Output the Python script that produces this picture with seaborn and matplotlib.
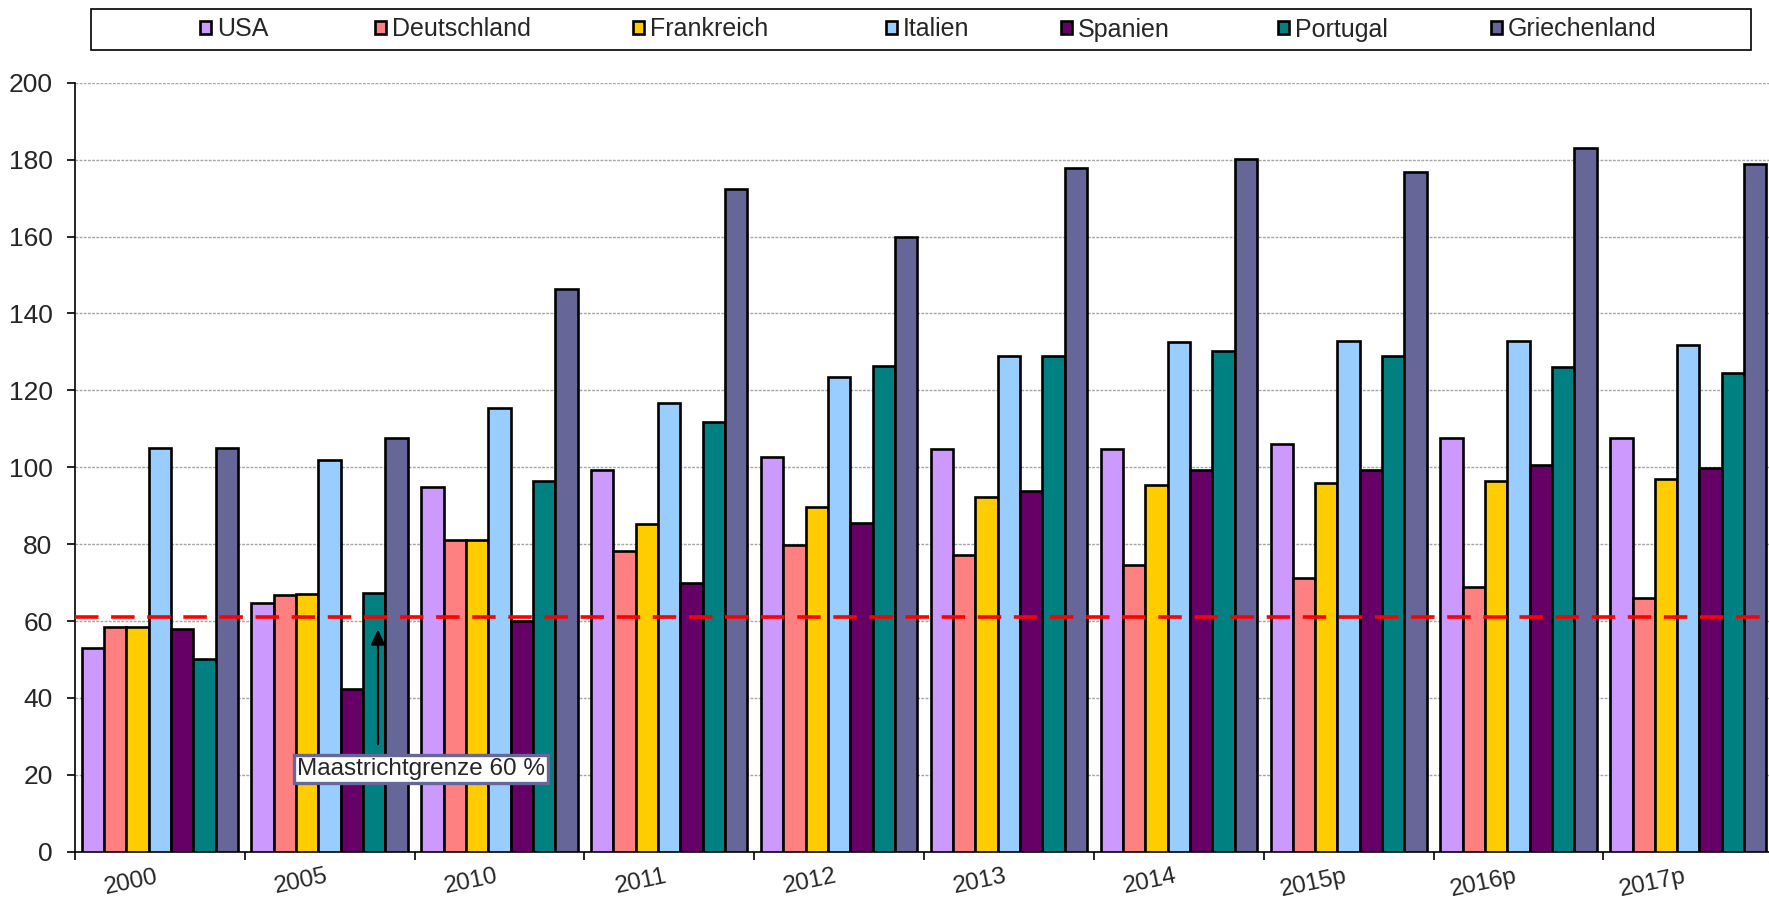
import numpy as np
import pandas as pd
import matplotlib
matplotlib.use("Agg")
import matplotlib.pyplot as plt
import seaborn as sns
from matplotlib.patches import Rectangle

# ---------------- data ----------------
years = ["2000", "2005", "2010", "2011", "2012", "2013", "2014", "2015p", "2016p", "2017p"]
countries = ["USA", "Deutschland", "Frankreich", "Italien", "Spanien", "Portugal", "Griechenland"]
usa = [52.9, 64.8, 94.9, 99.2, 102.6, 104.7, 104.7, 106.0, 107.6, 107.5]
deutschland = [58.5, 66.7, 81.1, 78.3, 79.7, 77.1, 74.6, 71.2, 68.8, 66.1]
frankreich = [58.5, 66.9, 81.1, 85.2, 89.6, 92.3, 95.4, 95.8, 96.4, 97.0]
italien = [105.1, 102.0, 115.5, 116.6, 123.5, 129.0, 132.5, 132.7, 132.8, 131.9]
spanien = [57.9, 42.2, 60.1, 69.8, 85.6, 93.9, 99.4, 99.2, 100.5, 99.9]
portugal = [50.2, 67.2, 96.4, 111.7, 126.2, 129.0, 130.3, 129.0, 126.0, 124.4]
griechenland = [105.1, 107.5, 146.4, 172.3, 159.9, 177.8, 180.2, 176.9, 182.9, 178.8]
maastricht_value = 61
annotation_text = "Maastrichtgrenze 60 %"
y_ticks = list(range(0, 201, 20))

colors = ["#CC99FF", "#FF8080", "#FFCC00", "#99CCFF", "#660066", "#008080", "#666699"]

series = [usa, deutschland, frankreich, italien, spanien, portugal, griechenland]
df = pd.DataFrame(
    [(y, c, v) for c, vals in zip(countries, series) for y, v in zip(years, vals)],
    columns=["Jahr", "Land", "Wert"],
)

# ---------------- figure ----------------
sns.set_style("white")
plt.rcParams["font.family"] = ["Liberation Sans", "DejaVu Sans"]

W, H = 1769, 911
fig = plt.figure(figsize=(W / 100, H / 100), dpi=100)
ax = fig.add_axes([0.0423, 0.0651, 0.9601, 0.8441])

sns.barplot(
    data=df, x="Jahr", y="Wert", hue="Land", order=years, hue_order=countries,
    palette=colors, saturation=1, width=0.92, edgecolor="black", linewidth=1.9,
    errorbar=None, ax=ax, zorder=3,
)

handles, labels = ax.get_legend_handles_labels()
if ax.get_legend() is not None:
    ax.get_legend().remove()

ax.set_xlim(-0.5, 9.5)
ax.set_ylim(0, 200)
ax.set_yticks(y_ticks)
ax.set_xlabel("")
ax.set_ylabel("")

ax.grid(axis="y", color="#A6A6A6", linestyle=(0, (2, 1)), linewidth=1)
ax.grid(axis="x", visible=False)
ax.set_axisbelow(True)

for s in ["top", "right"]:
    ax.spines[s].set_visible(False)
for s in ["left", "bottom"]:
    ax.spines[s].set_color("black")
    ax.spines[s].set_linewidth(1.2)

ax.set_xticks(np.arange(-0.5, 10, 1), minor=True)
ax.tick_params(axis="x", which="major", bottom=True, length=0, pad=10, labelsize=17.5)
ax.tick_params(axis="x", which="minor", bottom=True, length=6, width=1.2, color="black", direction="out")
ax.tick_params(axis="y", left=True, length=6, width=1.2, color="black", direction="out", pad=10, labelsize=19)
plt.setp(ax.get_xticklabels(), rotation=12, ha="right")

# Maastricht line
ax.axhline(maastricht_value, color="#FF0000", linewidth=2.6, linestyle=(0, (6.5, 3.5)), zorder=5)

# annotation
ax.annotate(
    "", xy=(1.285, 57.8), xytext=(1.285, 28),
    arrowprops=dict(arrowstyle="-|>,head_length=0.9,head_width=0.42", color="black",
                    lw=1.6, shrinkA=0, shrinkB=0),
    zorder=6,
)
ax.text(
    1.539, 21.6, annotation_text, ha="center", va="center", fontsize=17.5, zorder=7,
    bbox=dict(boxstyle="square,pad=0.12", fc="white", ec="#666699", lw=2.4),
)

# legend (Excel-like: framed box, entries at fixed slots)
legend_x_px = [200, 375, 633, 886, 1061, 1278, 1491]
for hnd, lab, xp in zip(handles, labels, legend_x_px):
    fig.legend(
        handles=[hnd], labels=[lab], loc="center left",
        bbox_to_anchor=(xp / W, 1 - 29.5 / H), frameon=False, fontsize=18,
        handlelength=0.42, handleheight=0.42, handletextpad=0.25,
        borderpad=0, borderaxespad=0,
    )
fig.add_artist(Rectangle((91 / W, 1 - 50 / H), (1751 - 91) / W, 41 / H,
                         transform=fig.transFigure, fill=False, edgecolor="black", lw=1.2))

fig.savefig("out.png", dpi=100)
